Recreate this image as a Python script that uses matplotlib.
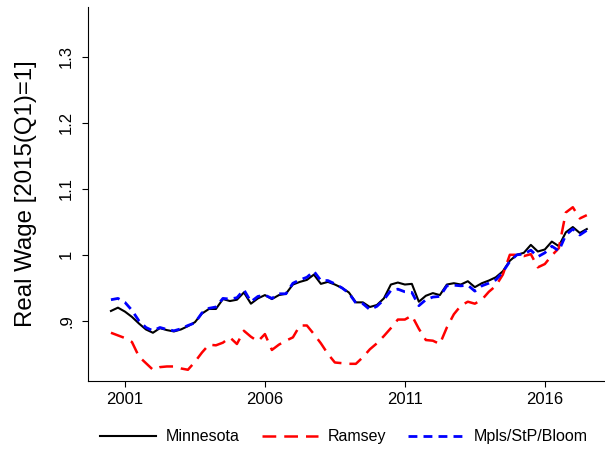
import numpy as np
import matplotlib
matplotlib.use('Agg')
import matplotlib.pyplot as plt

plt.rcParams['font.family'] = ['Liberation Sans', 'DejaVu Sans']

# quarterly series, 2000Q3 .. 2017Q3 (index 2015Q1 = 1)
start_year = 2000.5
minnesota = [0.915, 0.920, 0.914, 0.906, 0.896, 0.887, 0.882, 0.889, 0.886, 0.884,
             0.887, 0.892, 0.898, 0.911, 0.918, 0.918, 0.933, 0.930, 0.932, 0.943,
             0.926, 0.934, 0.939, 0.933, 0.939, 0.941, 0.955, 0.959, 0.962, 0.970,
             0.956, 0.959, 0.955, 0.950, 0.943, 0.928, 0.928, 0.921, 0.924, 0.934,
             0.955, 0.958, 0.955, 0.956, 0.929, 0.938, 0.942, 0.939, 0.955, 0.957,
             0.955, 0.960, 0.951, 0.957, 0.961, 0.966, 0.975, 0.991, 1.000, 1.003,
             1.015, 1.005, 1.008, 1.020, 1.013, 1.034, 1.042, 1.033, 1.039]
ramsey = [0.882, 0.878, 0.874, 0.868, 0.846, 0.836, 0.826, 0.830, 0.831, 0.831,
          0.828, 0.826, 0.838, 0.852, 0.864, 0.863, 0.867, 0.875, 0.865, 0.885,
          0.876, 0.869, 0.880, 0.856, 0.864, 0.870, 0.875, 0.893, 0.893, 0.880,
          0.866, 0.850, 0.837, 0.836, 0.835, 0.835, 0.845, 0.857, 0.866, 0.877,
          0.889, 0.902, 0.902, 0.908, 0.888, 0.871, 0.870, 0.865, 0.890, 0.910,
          0.923, 0.929, 0.926, 0.932, 0.944, 0.953, 0.970, 1.000, 1.000, 0.998,
          1.001, 0.981, 0.986, 0.999, 1.010, 1.064, 1.072, 1.055, 1.060]
mpls = [0.932, 0.934, 0.928, 0.916, 0.900, 0.890, 0.885, 0.890, 0.887, 0.885,
        0.888, 0.893, 0.897, 0.912, 0.919, 0.921, 0.934, 0.933, 0.935, 0.947,
        0.929, 0.937, 0.939, 0.934, 0.941, 0.941, 0.957, 0.962, 0.966, 0.975,
        0.961, 0.961, 0.956, 0.950, 0.942, 0.927, 0.926, 0.917, 0.922, 0.932,
        0.946, 0.948, 0.944, 0.943, 0.923, 0.932, 0.936, 0.937, 0.953, 0.954,
        0.953, 0.954, 0.945, 0.953, 0.957, 0.962, 0.974, 0.990, 1.000, 1.001,
        1.007, 0.997, 1.003, 1.013, 1.006, 1.030, 1.039, 1.030, 1.037]
labels = ['Minnesota', 'Ramsey', 'Mpls/StP/Bloom']
x_ticks = [2001, 2006, 2011, 2016]
y_ticks = [0.9, 1.0, 1.1, 1.2, 1.3]
y_ticklabels = ['.9', '1', '1.1', '1.2', '1.3']

quarters = start_year + 0.25 * np.arange(len(minnesota))

fig = plt.figure(figsize=(6.05, 4.49), dpi=100)
ax = fig.add_axes([88 / 605, 1 - 381 / 449, 517 / 605, 374 / 449])

ax.plot(quarters, minnesota, color='black', lw=1.5, label=labels[0])
ax.plot(quarters, ramsey, color='#ff0000', lw=1.8, linestyle=(0, (5.5, 3.2)), label=labels[1])
ax.plot(quarters, mpls, color='#0000ff', lw=2.0, linestyle=(0, (3.2, 2.2)), label=labels[2])

ax.set_xlim(1999.68, 2018.15)
ax.set_ylim(0.809, 1.375)
ax.set_xticks(x_ticks)
ax.set_yticks(y_ticks)
ax.set_yticklabels(y_ticklabels, rotation=90, va='center')

for s in ['top', 'right']:
    ax.spines[s].set_visible(False)
for s in ['left', 'bottom']:
    ax.spines[s].set_linewidth(0.8)

ax.tick_params(axis='both', labelsize=12, length=4, width=0.8)
ax.tick_params(axis='y', pad=6)
ax.tick_params(axis='x', pad=4)

ax.set_ylabel('Real Wage [2015(Q1)=1]', fontsize=17.3)
ax.yaxis.set_label_coords(-0.099, 0.5)

fig.legend(loc='center', bbox_to_anchor=(344 / 605, 1 - 436.7 / 449), ncol=3,
           frameon=False, fontsize=11.5, handlelength=3.5, handletextpad=0.6,
           columnspacing=1.4)

fig.savefig('out.png', dpi=100)
